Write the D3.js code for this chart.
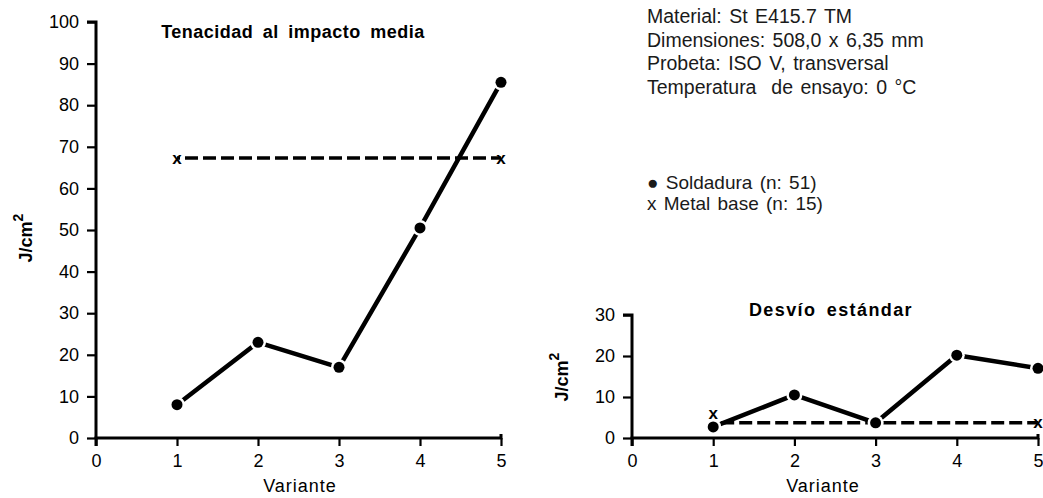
<!DOCTYPE html>
<html>
<head>
<meta charset="utf-8">
<script src="https://cdn.jsdelivr.net/npm/d3@7"></script>
<style>
  html, body { margin: 0; padding: 0; background: #fff; }
  svg { display: block; }
</style>
</head>
<body>
<svg id="chart" width="1043" height="498"></svg>
<script>
// Variants tested
const variants = [1, 2, 3, 4, 5];
// Mean impact toughness (J/cm²)
const weldMean = [8, 23, 17, 50.5, 85.5];
const baseMetalVariants = [1, 5];
const baseMetalMean = [67.3, 67.3];
// Standard deviation (J/cm²)
const weldStd = [2.7, 10.5, 3.7, 20.2, 17];
const baseMetalStd = [3.7, 3.7];
// Axis ticks
const xTicks = [0, 1, 2, 3, 4, 5];
const meanTicks = [0, 10, 20, 30, 40, 50, 60, 70, 80, 90, 100];
const stdTicks = [0, 10, 20, 30];
// Text blocks
const infoLines = [
  "Material: St E415.7 TM",
  "Dimensiones: 508,0 x 6,35 mm",
  "Probeta: ISO V, transversal",
  "Temperatura  de ensayo: 0 °C"
];
const legendLines = ["● Soldadura (n: 51)", "x Metal base (n: 15)"];

const svg = d3.select("#chart");
const FONT = "'Liberation Sans', Arial, Helvetica, sans-serif";

function drawPanel(opts) {
  const { left, right, top, bottom, yMax, yTicks, title, weld, base } = opts;
  const x = d3.scaleLinear().domain([0, 5]).range([left, right]);
  const y = d3.scaleLinear().domain([0, yMax]).range([bottom, top]);
  const g = svg.append("g");

  // y axis
  const ya = g.append("g").attr("transform", `translate(${left},0)`)
    .call(d3.axisLeft(y).tickValues(yTicks).tickFormat(d3.format("d")).tickSize(9).tickPadding(8));
  // x axis
  const xa = g.append("g").attr("transform", `translate(0,${bottom})`)
    .call(d3.axisBottom(x).tickValues(xTicks).tickFormat(d3.format("d")).tickSize(8).tickPadding(8));
  [ya, xa].forEach(a => {
    a.select(".domain").attr("stroke", "#000").attr("stroke-width", 3);
    a.selectAll(".tick line").attr("stroke", "#000").attr("stroke-width", 2.2);
    a.selectAll(".tick text").attr("fill", "#000")
      .style("font-size", "18px").style("font-family", FONT);
  });
  ya.select(".domain").attr("d", `M-9,${top}H0V${bottom}`);
  xa.select(".domain").attr("d", `M${left},8V0H${right}V-4`);

  // axis titles
  g.append("text").attr("x", opts.xlabX).attr("y", bottom + 48)
    .attr("text-anchor", "middle").attr("dominant-baseline", "central")
    .style("font-family", FONT).style("font-size", "18px").style("letter-spacing", "1px")
    .text("Variante");
  const yl = g.append("text")
    .attr("transform", `translate(${opts.ylabX},${opts.ylabY}) rotate(-90)`)
    .attr("text-anchor", "middle").attr("dominant-baseline", "central")
    .style("font-family", FONT).style("font-size", "18px").style("font-weight", "bold");
  yl.append("tspan").text("J/cm");
  yl.append("tspan").attr("dy", -8).style("font-size", "14px").text("2");

  // panel title
  g.append("text").attr("x", opts.titleX).attr("y", opts.titleY)
    .attr("text-anchor", "middle").attr("dominant-baseline", "central")
    .style("font-family", FONT).style("font-size", "18px").style("font-weight", "bold")
    .style("letter-spacing", opts.titleSpacing).style("word-spacing", "4px")
    .text(title);

  // base metal: dashed line between x markers
  const basePts = baseMetalVariants.map((v, i) => [v, base[i]]);
  g.append("path").datum(basePts)
    .attr("d", d3.line().x(d => x(d[0])).y(d => y(d[1])))
    .attr("fill", "none").attr("stroke", "#000").attr("stroke-width", 3.5)
    .attr("stroke-dasharray", "13,5")
    .attr("stroke-dashoffset", -8);

  // weld: thick solid line with dots
  const weldPts = variants.map((v, i) => [v, weld[i]]);
  g.append("path").datum(weldPts)
    .attr("d", d3.line().x(d => x(d[0])).y(d => y(d[1])))
    .attr("fill", "none").attr("stroke", "#000").attr("stroke-width", 4.5)
    .attr("stroke-linejoin", "round");
  g.selectAll(".halo").data(weldPts).enter().append("circle")
    .attr("cx", d => x(d[0])).attr("cy", d => y(d[1])).attr("r", 8).attr("fill", "#fff");
  g.selectAll(".dot").data(weldPts).enter().append("circle")
    .attr("cx", d => x(d[0])).attr("cy", d => y(d[1])).attr("r", 5.5).attr("fill", "#000");

  // x markers; lifted above a weld dot when they would overlap it
  g.selectAll(".xm").data(basePts).enter().append("text")
    .attr("x", d => x(d[0]))
    .attr("y", d => {
      const w = weld[variants.indexOf(d[0])];
      const clash = Math.abs(y(w) - y(d[1])) < 12;
      return y(d[1]) - (clash ? 9 : 0);
    })
    .attr("text-anchor", "middle").attr("dominant-baseline", "central")
    .style("font-family", FONT).style("font-size", "17px").style("font-weight", "bold")
    .text("x");
  return { x, y };
}

// Left panel: mean toughness
drawPanel({
  left: 96, right: 501, top: 22, bottom: 438, yMax: 100, yTicks: meanTicks,
  title: "Tenacidad al impacto media", titleX: 293, titleY: 32, titleSpacing: "0.5px",
  weld: weldMean, base: baseMetalMean, xlabX: 300, ylabX: 26, ylabY: 238
});

// Right panel: standard deviation
drawPanel({
  left: 632, right: 1038, top: 315, bottom: 438, yMax: 30, yTicks: stdTicks,
  title: "Desvío estándar", titleX: 831, titleY: 310, titleSpacing: "1.4px",
  weld: weldStd, base: baseMetalStd, xlabX: 823, ylabX: 562, ylabY: 377
});

// Test conditions
svg.append("g").selectAll("text").data(infoLines).enter().append("text")
  .attr("x", 647).attr("y", (d, i) => 16 + i * 23.7)
  .attr("dominant-baseline", "central")
  .style("font-family", "Arial, 'Liberation Sans', sans-serif").style("font-size", "19.5px")
  .style("word-spacing", "2px")
  .attr("fill", "#1a1a1a").style("white-space", "pre")
  .text(d => d);

// Series key
svg.append("g").selectAll("text").data(legendLines).enter().append("text")
  .attr("x", 647).attr("y", (d, i) => 182 + i * 21.5)
  .attr("dominant-baseline", "central")
  .style("font-family", "Arial, 'Liberation Sans', sans-serif").style("font-size", "19px")
  .style("word-spacing", "2px")
  .attr("fill", "#1a1a1a")
  .text(d => d);
</script>
</body>
</html>
